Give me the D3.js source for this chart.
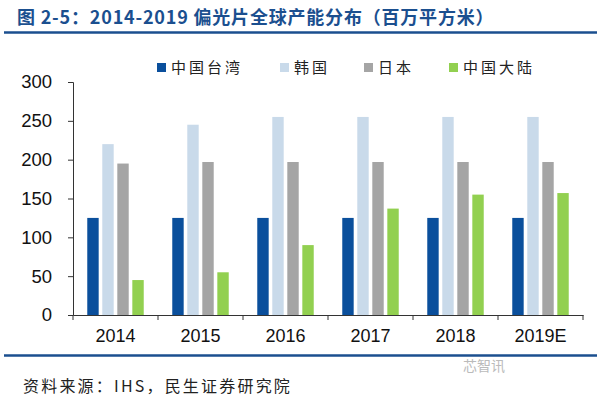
<!DOCTYPE html>
<html>
<head>
<meta charset="utf-8">
<script src="https://d3js.org/d3.v7.min.js"></script>
<style>
  body { margin: 0; background: #fff; }
  svg text { font-family: "Liberation Sans", Arial, sans-serif; }
</style>
</head>
<body>
<div id="chart-area"></div>
<script>

var width = 600,
    height = 398;

// data
var years = ["2014", "2015", "2016", "2017", "2018", "2019E"];
var seriesNames = ["中国台湾", "韩国", "日本", "中国大陆"];
var taiwan   = [125, 125, 125, 125, 125, 125];
var korea    = [220, 245, 255, 255, 255, 255];
var japan    = [195, 197, 197, 197, 197, 197];
var mainland = [45, 55, 90, 137, 155, 157];
var yTicks = [0, 50, 100, 150, 200, 250, 300];
var colors = ["#0A4F9C", "#C9DAEA", "#A5A5A5", "#92D050"];

var seriesValues = [taiwan, korea, japan, mainland];

var svg = d3.select("#chart-area").append("svg")
    .attr("width", width)
    .attr("height", height);

// title
svg.append("text")
    .attr("x", 17)
    .attr("y", 24)
    .style("font-family", "'Noto Sans CJK SC', sans-serif")
    .style("font-size", "18px")
    .style("letter-spacing", "0.8px")
    .style("font-weight", "bold")
    .style("fill", "#1B4F8F")
    .text("图 2-5：2014-2019 偏光片全球产能分布（百万平方米）");

svg.append("line")
    .attr("x1", 4).attr("x2", 597)
    .attr("y1", 32.5).attr("y2", 32.5)
    .style("stroke", "#1B4F8F")
    .style("stroke-width", 2.5);

svg.append("line")
    .attr("x1", 4).attr("x2", 597)
    .attr("y1", 355.5).attr("y2", 355.5)
    .style("stroke", "#1B4F8F")
    .style("stroke-width", 2.5);

// scales
var x = d3.scaleBand()
    .domain(years)
    .range([73, 583])
    .paddingInner(0)
    .paddingOuter(0);

var xInner = d3.scaleBand()
    .domain(d3.range(seriesNames.length))
    .range([0, x.bandwidth()])
    .paddingInner(0.24)
    .paddingOuter(0.95);

var y = d3.scaleLinear()
    .domain([0, 300])
    .range([315, 82]);

// bars
var groups = svg.selectAll(".group")
    .data(years)
    .enter()
    .append("g")
    .attr("class", "group")
    .attr("transform", function(d) { return "translate(" + x(d) + ",0)"; });

groups.selectAll("rect")
    .data(function(d, i) {
      return seriesValues.map(function(s, k) { return {k: k, v: s[i]}; });
    })
    .enter()
    .append("rect")
    .attr("x", function(d) { return xInner(d.k); })
    .attr("width", xInner.bandwidth())
    .attr("y", function(d) { return y(d.v); })
    .attr("height", function(d) { return y(0) - y(d.v); })
    .style("fill", function(d) { return colors[d.k]; });

// y axis
var yAxis = svg.append("g")
    .attr("transform", "translate(73,0)")
    .call(d3.axisLeft(y).tickValues(yTicks).tickSize(5).tickPadding(16));

yAxis.select(".domain").style("stroke", "#333");
yAxis.selectAll(".tick line").style("stroke", "#333");
yAxis.selectAll(".tick text")
    .style("font-size", "18.5px")
    .style("fill", "#111");

// x axis
var xAxis = svg.append("g")
    .attr("transform", "translate(0,315)")
    .call(d3.axisBottom(x).tickSize(0).tickPadding(14));

xAxis.select(".domain").style("stroke", "#333");
xAxis.selectAll(".tick text")
    .style("font-size", "18px")
    .style("fill", "#111");

// boundary ticks on x axis
svg.selectAll(".xb")
    .data(years.concat(["end"]))
    .enter()
    .append("line")
    .attr("class", "xb")
    .attr("x1", function(d) { return d == "end" ? x.range()[1] : x(d); })
    .attr("x2", function(d) { return d == "end" ? x.range()[1] : x(d); })
    .attr("y1", 315)
    .attr("y2", 320)
    .style("stroke", "#333");

// legend
var legendX = [157, 280, 364, 449];
var legend = svg.selectAll(".legend")
    .data(seriesNames)
    .enter()
    .append("g")
    .attr("class", "legend")
    .attr("transform", function(d, i) { return "translate(" + legendX[i] + ",63)"; });

legend.append("rect")
    .attr("width", 9)
    .attr("height", 9)
    .style("fill", function(d, i) { return colors[i]; });

legend.append("text")
    .attr("x", 14)
    .attr("y", 10)
    .style("font-family", "'Noto Sans CJK SC', sans-serif")
    .style("font-size", "15px")
    .style("letter-spacing", "3px")
    .style("fill", "#222")
    .text(function(d) { return d; });

// source
svg.append("text")
    .attr("x", 23)
    .attr("y", 392)
    .style("font-family", "'Noto Sans CJK SC', sans-serif")
    .style("font-size", "16px")
    .style("letter-spacing", "2.2px")
    .style("fill", "#222")
    .text("资料来源：IHS，民生证券研究院");

svg.append("text")
    .attr("x", 505)
    .attr("y", 371)
    .attr("text-anchor", "end")
    .style("font-family", "'Noto Sans CJK SC', sans-serif")
    .style("font-size", "14px")
    .style("fill", "#bbb")
    .text("芯智讯");

</script>
</body>
</html>
